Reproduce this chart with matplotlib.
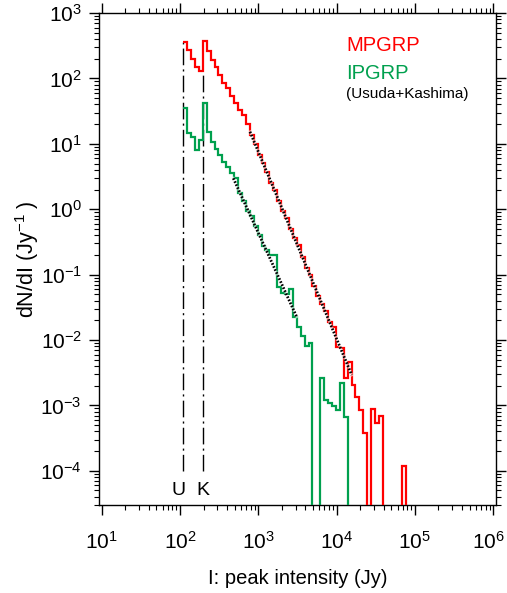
import numpy as np
import matplotlib
matplotlib.use("Agg")
import matplotlib.pyplot as plt
import matplotlib.transforms as mtransforms

plt.rcParams["font.family"] = ["Liberation Sans", "DejaVu Sans"]
plt.rcParams["mathtext.default"] = "regular"

# histogram binning: log bins of 0.05 dex starting at the U threshold
bin_lo = 110.0
bin_dex = 0.05

# dN/dI per bin (Jy^-1), 0 = empty bin
mpgrp = [356, 272, 198, 151, 131, 373, 262, 191, 148, 113,
         85.9, 70.6, 54.4, 41.6, 32.9, 27.6, 20.1, 13.6, 9.94, 6.75,
         5.09, 3.70, 2.52, 1.97, 1.33, 0.938, 0.733, 0.498, 0.363, 0.284,
         0.186, 0.126, 0.0986, 0.0670, 0.0471, 0.0355, 0.0277, 0.0188, 0.0158, 0.00781,
         0.00755, 0.00262, 0.00461, 0.00205, 0.00134, 0.000851, 0.000379, 0, 0.000881, 0.000538,
         0.000689, 0, 0, 0, 0, 0, 0.000118, 0]
ipgrp = [34.9, 14.5, 12.9, 8.04, 11.4, 42.5, 15.3, 10.8, 8.24, 6.75,
         5.32, 4.37, 3.54, 2.97, 1.77, 1.33, 0.938, 0.787, 0.553, 0.404,
         0.274, 0.238, 0.200, 0.200, 0.0640, 0.0530, 0.0500, 0.0603, 0.0225, 0.0158,
         0.0115, 0.00809, 0.00910, 0, 0, 0.00259, 0.00121, 0.00109, 0.000979, 0.000851,
         0.00222, 0.000671, 0]

# power-law fits (end points)
mp_fit_I = [783, 15600]
mp_fit_N = [15.3, 2.92e-3]
ip_fit_I = [480, 3090]
ip_fit_N = [2.97, 0.0227]

# detection thresholds (Usuda, Kashima)
thr_names = ["U", "K"]
thr_I = [110, 195]
thr_top = [356, 131]

RED = "#ff0000"
GREEN = "#00a04e"


def plot_hist(ax, vals, color):
    vals = np.asarray(vals, dtype=float)
    edges = bin_lo * 10 ** (bin_dex * np.arange(len(vals) + 1))
    vals = np.where(vals > 0, vals, 1e-9)
    ax.stairs(vals, edges, baseline=None, color=color, linewidth=1.6, zorder=3)


fig = plt.figure(figsize=(5.07, 5.93), dpi=100)
ax = fig.add_axes([0.1943, 0.1484, 0.784, 0.8305])
ax.set_xscale("log")
ax.set_yscale("log")

plot_hist(ax, ipgrp, GREEN)
plot_hist(ax, mpgrp, RED)

for fi, fn in [(mp_fit_I, mp_fit_N), (ip_fit_I, ip_fit_N)]:
    ax.plot(fi, fn, color="white", linewidth=2.0, zorder=4, alpha=0.6)
    ax.plot(fi, fn, color="black", linewidth=2.0, linestyle=(0, (0.6, 0.6)), zorder=5)

for name, xi, top in zip(thr_names, thr_I, thr_top):
    ax.plot([xi, xi], [1e-4, top], color="black", linewidth=1.0,
            linestyle=(0, (12, 3, 1.5, 3)), zorder=2)
    ax.text(xi * (0.86 if name == "U" else 1.0), 5.0e-5, name, ha="center", va="center",
            fontsize=14)

ax.set_xlim(9.1, 1.087e6)
ax.set_ylim(3.0e-5, 1018)
ax.set_xticks([1e1, 1e2, 1e3, 1e4, 1e5, 1e6])
ax.set_yticks([1e-4, 1e-3, 1e-2, 1e-1, 1e0, 1e1, 1e2, 1e3])

ax.tick_params(which="both", direction="out", top=True, right=True, labelsize=15)
ax.tick_params(which="major", length=7, width=1.0)
ax.tick_params(which="minor", length=3.5, width=0.8)
ax.tick_params(axis="x", which="major", pad=12)
ax.tick_params(axis="y", which="major", pad=5)
for s in ax.spines.values():
    s.set_linewidth(1.0)

# last x tick label sits against the right edge, as in the original
fig.canvas.draw()
last = ax.get_xticklabels()[-1]
last.set_horizontalalignment("right")
last.set_transform(last.get_transform() + mtransforms.ScaledTranslation(0.12, 0, fig.dpi_scale_trans))

ax.set_xlabel("I: peak intensity (Jy)", fontsize=14.5)
ax.xaxis.set_label_coords(0.5, -0.13)
ax.set_ylabel(r"dN/dI (Jy$^{-1}$ )", fontsize=15.5)
ax.yaxis.set_label_coords(-0.145, 0.5)

ax.text(0.623, 0.934, "MPGRP", transform=ax.transAxes, color=RED, fontsize=14.5,
        ha="left", va="center")
ax.text(0.623, 0.876, "IPGRP", transform=ax.transAxes, color=GREEN, fontsize=14.5,
        ha="left", va="center")
ax.text(0.623, 0.834, "(Usuda+Kashima)", transform=ax.transAxes, color="black",
        fontsize=11, ha="left", va="center")

fig.savefig("out.png", dpi=100)
